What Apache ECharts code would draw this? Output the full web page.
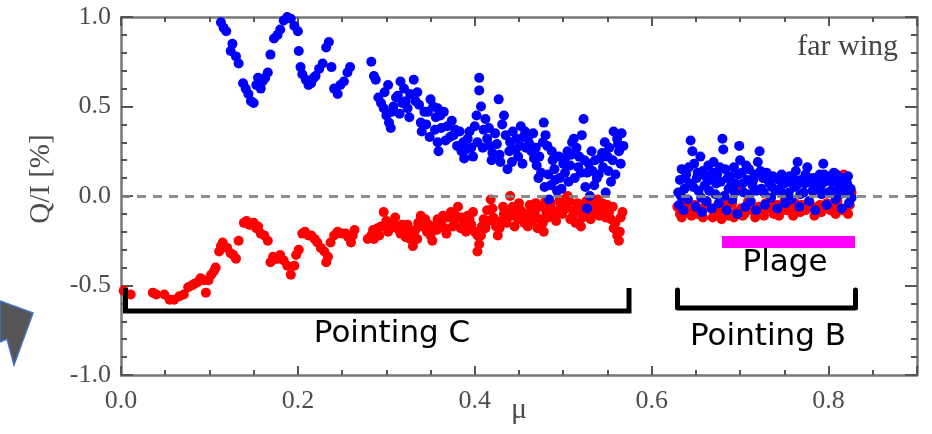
<!DOCTYPE html>
<html>
<head>
<meta charset="utf-8">
<script src="https://cdn.jsdelivr.net/npm/echarts@6/dist/echarts.min.js"></script>
<style>html,body{margin:0;padding:0;background:#fff;}#c{width:932px;height:434px;}</style>
</head>
<body>
<div id="c"></div>
<script>
// ---- data ----
const xTicks = [0.0, 0.2, 0.4, 0.6, 0.8];
const yTicks = [-1.0, -0.5, 0.0, 0.5, 1.0];
const xAxisName = 'μ';
const yAxisName = 'Q/I [%]';
const panelLabel = 'far wing';
const groupLabels = ['Pointing C', 'Pointing B', 'Plage'];

// Pointing C, blue points [mu, Q/I]
const bluePointingC = [[0.113,0.97],[0.116,0.94],[0.119,0.92],[0.126,0.85],[0.124,0.81],[0.130,0.78],[0.133,0.74],[0.138,0.63],[0.141,0.60],[0.144,0.57],[0.147,0.53],[0.150,0.52],[0.153,0.62],[0.155,0.66],[0.158,0.60],[0.160,0.64],[0.163,0.66],[0.166,0.69],[0.169,0.79],[0.173,0.88],[0.177,0.90],[0.180,0.93],[0.184,0.98],[0.188,1.0],[0.192,0.99],[0.196,0.95],[0.200,0.92],[0.201,0.81],[0.203,0.72],[0.205,0.68],[0.209,0.65],[0.212,0.62],[0.215,0.63],[0.218,0.66],[0.220,0.67],[0.224,0.71],[0.228,0.74],[0.232,0.83],[0.235,0.86],[0.238,0.72],[0.241,0.60],[0.245,0.57],[0.248,0.62],[0.252,0.64],[0.256,0.69],[0.259,0.72],[0.283,0.75],[0.286,0.67],[0.288,0.65],[0.291,0.55],[0.294,0.52],[0.297,0.49],[0.300,0.45],[0.303,0.41],[0.305,0.38],[0.308,0.50],[0.311,0.55],[0.313,0.56],[0.316,0.64],[0.320,0.60],[0.322,0.53],[0.324,0.49],[0.327,0.57],[0.331,0.65],[0.335,0.58],[0.337,0.51],[0.339,0.41],[0.340,0.36],[0.343,0.47],[0.347,0.47],[0.350,0.54],[0.353,0.50],[0.356,0.44],[0.358,0.49],[0.358,0.30],[0.359,0.25],[0.362,0.38],[0.365,0.47],[0.369,0.39],[0.372,0.33],[0.376,0.34],[0.380,0.28],[0.383,0.36],[0.385,0.25],[0.388,0.21],[0.392,0.32],[0.396,0.27],[0.400,0.39],[0.403,0.30],[0.405,0.66],[0.405,0.59],[0.407,0.50],[0.410,0.37],[0.414,0.32],[0.417,0.28],[0.420,0.24],[0.423,0.35],[0.427,0.54],[0.429,0.19],[0.431,0.40],[0.433,0.45],[0.437,0.15],[0.440,0.30],[0.443,0.36],[0.446,0.26],[0.449,0.22],[0.452,0.39],[0.455,0.33],[0.458,0.27],[0.460,0.32],[0.464,0.25],[0.467,0.21],[0.470,0.17],[0.472,0.10],[0.475,0.13],[0.478,0.41],[0.480,0.34],[0.482,0.28],[0.484,-0.02],[0.486,0.06],[0.488,0.20],[0.490,0.15],[0.493,0.03],[0.496,0.10],[0.500,0.18],[0.503,0.22],[0.505,0.25],[0.508,0.17],[0.510,0.30],[0.512,0.32],[0.515,0.27],[0.518,0.22],[0.520,0.13],[0.523,0.43],[0.525,0.05],[0.527,0.13],[0.527,-0.07],[0.530,0.00],[0.533,0.14],[0.535,0.06],[0.538,0.10],[0.542,0.21],[0.545,0.16],[0.548,0.02],[0.550,0.22],[0.552,0.27],[0.554,0.08],[0.557,0.36],[0.561,0.32],[0.563,0.25],[0.565,0.18],
[0.298,0.58],[0.302,0.62],[0.306,0.47],[0.315,0.46],[0.318,0.52],[0.326,0.44],[0.333,0.53],[0.345,0.40],[0.349,0.33],[0.355,0.37],[0.361,0.45],[0.367,0.31],[0.374,0.42],[0.378,0.37],[0.387,0.30],[0.390,0.26],[0.394,0.36],[0.398,0.22],[0.402,0.45],[0.409,0.27],[0.412,0.43],[0.416,0.38],[0.419,0.20],[0.425,0.29],[0.428,0.23],[0.435,0.34],[0.439,0.25],[0.442,0.19],[0.447,0.32],[0.451,0.28],[0.454,0.18],[0.457,0.36],[0.462,0.29],[0.466,0.35],[0.469,0.27],[0.473,0.22],[0.477,0.30],[0.479,0.05],[0.483,0.12],[0.487,0.25],[0.491,0.09],[0.495,0.22],[0.498,0.04],[0.502,0.13],[0.506,0.08],[0.509,0.23],[0.513,0.10],[0.517,0.16],[0.521,0.34],[0.524,0.20],[0.529,0.18],[0.532,0.25],[0.536,0.20],[0.540,0.12],[0.544,0.24],[0.547,0.30],[0.551,0.14],[0.556,0.20],[0.559,0.12],[0.562,0.29],[0.566,0.35],[0.568,0.28]];

// Pointing C, red points [mu, Q/I]
const redPointingC = [[0.003,-0.53],[0.011,-0.55],[0.036,-0.54],[0.040,-0.55],[0.049,-0.55],[0.055,-0.58],[0.060,-0.58],[0.066,-0.56],[0.071,-0.55],[0.076,-0.51],[0.080,-0.50],[0.083,-0.49],[0.087,-0.48],[0.090,-0.46],[0.094,-0.47],[0.096,-0.54],[0.099,-0.47],[0.102,-0.44],[0.105,-0.42],[0.107,-0.40],[0.111,-0.31],[0.113,-0.28],[0.115,-0.26],[0.120,-0.29],[0.124,-0.32],[0.127,-0.33],[0.130,-0.35],[0.133,-0.25],[0.139,-0.15],[0.142,-0.14],[0.145,-0.16],[0.147,-0.16],[0.150,-0.15],[0.153,-0.18],[0.155,-0.17],[0.158,-0.21],[0.162,-0.22],[0.166,-0.25],[0.169,-0.37],[0.172,-0.34],[0.175,-0.35],[0.177,-0.35],[0.180,-0.33],[0.184,-0.36],[0.188,-0.39],[0.192,-0.44],[0.196,-0.39],[0.198,-0.33],[0.201,-0.30],[0.205,-0.21],[0.208,-0.20],[0.212,-0.22],[0.215,-0.22],[0.219,-0.24],[0.222,-0.26],[0.226,-0.29],[0.230,-0.31],[0.232,-0.37],[0.234,-0.34],[0.237,-0.26],[0.241,-0.22],[0.245,-0.20],[0.250,-0.21],[0.254,-0.21],[0.257,-0.23],[0.260,-0.26],[0.262,-0.22],[0.264,-0.19],[0.279,-0.24],[0.283,-0.22],[0.286,-0.24],[0.290,-0.18],[0.294,-0.17],[0.297,-0.09],[0.300,-0.14],[0.304,-0.18],[0.308,-0.15],[0.312,-0.18],[0.316,-0.21],[0.320,-0.20],[0.324,-0.16],[0.327,-0.24],[0.330,-0.28],[0.333,-0.19],[0.336,-0.15],[0.339,-0.11],[0.342,-0.17],[0.346,-0.20],[0.350,-0.22],[0.354,-0.17],[0.358,-0.13],[0.362,-0.15],[0.366,-0.18],[0.369,-0.12],[0.373,-0.09],[0.377,-0.14],[0.381,-0.06],[0.384,-0.18],[0.388,-0.15],[0.392,-0.11],[0.396,-0.16],[0.400,-0.20],[0.403,-0.22],[0.403,-0.31],[0.405,-0.27],[0.408,-0.17],[0.410,-0.13],[0.414,-0.08],[0.418,-0.02],[0.421,-0.12],[0.424,-0.17],[0.426,-0.22],[0.430,-0.14],[0.433,-0.10],[0.437,-0.09],[0.440,0.00],[0.443,-0.06],[0.446,-0.11],[0.449,-0.13],[0.452,-0.08],[0.456,-0.15],[0.460,-0.17],[0.463,-0.12],[0.466,-0.07],[0.469,-0.04],[0.471,-0.18],[0.474,-0.13],[0.478,-0.20],[0.481,-0.09],[0.484,-0.06],[0.486,-0.04],[0.490,-0.11],[0.494,-0.09],[0.497,-0.05],[0.501,-0.02],[0.505,0.00],[0.508,-0.13],[0.512,-0.08],[0.516,-0.04],[0.520,-0.17],[0.523,-0.05],[0.527,-0.10],[0.531,-0.13],[0.535,-0.03],[0.539,-0.02],[0.543,-0.07],[0.546,-0.09],[0.550,-0.05],[0.554,-0.13],[0.557,-0.18],[0.561,-0.22],[0.563,-0.25],[0.565,-0.12],
[0.285,-0.19],[0.292,-0.22],[0.302,-0.20],[0.310,-0.12],[0.318,-0.16],[0.322,-0.23],[0.329,-0.20],[0.335,-0.24],[0.344,-0.13],[0.348,-0.16],[0.352,-0.25],[0.357,-0.19],[0.364,-0.11],[0.368,-0.21],[0.375,-0.17],[0.379,-0.11],[0.386,-0.12],[0.390,-0.20],[0.394,-0.13],[0.398,-0.09],[0.407,-0.22],[0.412,-0.18],[0.416,-0.14],[0.420,-0.07],[0.428,-0.18],[0.432,-0.06],[0.436,-0.15],[0.441,-0.11],[0.445,-0.17],[0.450,-0.04],[0.454,-0.12],[0.458,-0.10],[0.462,-0.05],[0.465,-0.14],[0.468,-0.10],[0.473,-0.06],[0.477,-0.15],[0.480,-0.03],[0.483,-0.12],[0.488,-0.08],[0.492,-0.14],[0.496,-0.02],[0.499,-0.10],[0.503,-0.07],[0.507,-0.03],[0.511,-0.11],[0.514,-0.15],[0.518,-0.08],[0.522,-0.12],[0.526,-0.03],[0.529,-0.07],[0.533,-0.10],[0.537,-0.06],[0.541,-0.11],[0.544,-0.04],[0.548,-0.12],[0.552,-0.09],[0.556,-0.06],[0.559,-0.15],[0.564,-0.20],[0.567,-0.09]];

// Pointing B, blue points [mu, Q/I]
const bluePointingB = [[0.630,0.02],[0.631,-0.05],[0.632,0.09],[0.634,0.15],[0.636,-0.08],[0.637,0.04],[0.639,0.12],[0.641,-0.02],[0.643,0.07],[0.644,0.31],[0.646,0.25],[0.648,0.18],[0.650,-0.06],[0.651,0.10],[0.653,0.03],[0.655,0.22],[0.657,-0.09],[0.658,0.14],[0.660,0.06],[0.662,-0.03],[0.664,0.17],[0.666,0.09],[0.668,-0.07],[0.670,0.19],[0.672,0.01],[0.674,0.12],[0.676,-0.04],[0.678,0.08],[0.680,0.32],[0.681,0.26],[0.683,0.15],[0.685,-0.08],[0.687,0.04],[0.689,0.11],[0.691,-0.02],[0.693,0.16],[0.695,0.07],[0.697,-0.10],[0.699,0.28],[0.700,0.20],[0.702,0.13],[0.704,0.02],[0.706,-0.06],[0.708,0.09],[0.710,0.15],[0.712,-0.03],[0.714,0.06],[0.716,0.12],[0.718,-0.08],[0.720,0.19],[0.722,0.25],[0.724,0.04],[0.726,0.10],[0.728,-0.05],[0.730,0.13],[0.733,0.07],[0.735,-0.01],[0.737,0.11],[0.740,0.03],[0.742,-0.07],[0.744,0.09],[0.747,0.12],[0.749,0.01],[0.751,-0.04],[0.754,0.08],[0.756,0.11],[0.758,-0.02],[0.761,0.05],[0.763,0.14],[0.765,0.19],[0.767,-0.06],[0.769,0.09],[0.772,0.02],[0.774,0.12],[0.776,0.16],[0.778,-0.03],[0.781,0.07],[0.783,0.10],[0.785,-0.08],[0.787,0.04],[0.790,0.12],[0.792,0.01],[0.794,0.18],[0.796,0.08],[0.798,-0.05],[0.801,0.11],[0.803,0.03],[0.806,0.13],[0.808,-0.02],[0.810,0.09],[0.812,0.05],[0.815,-0.07],[0.817,0.10],[0.819,0.02],[0.821,0.07],[0.823,-0.04],[0.825,0.04],
[0.633,0.00],[0.638,0.10],[0.642,0.16],[0.647,0.05],[0.652,0.13],[0.656,-0.01],[0.661,0.11],[0.665,0.03],[0.669,0.13],[0.673,0.07],[0.677,0.16],[0.682,0.00],[0.686,0.10],[0.690,0.06],[0.694,0.02],[0.698,0.12],[0.703,0.07],[0.707,0.17],[0.711,0.01],[0.715,0.09],[0.719,0.03],[0.723,0.14],[0.727,0.02],[0.732,0.09],[0.736,0.05],[0.741,0.10],[0.745,0.04],[0.750,0.07],[0.755,0.02],[0.760,0.10],[0.764,0.06],[0.768,0.01],[0.773,0.07],[0.777,0.10],[0.782,0.03],[0.786,0.09],[0.791,0.05],[0.795,0.12],[0.800,0.02],[0.804,0.08],[0.809,0.12],[0.813,0.01],[0.818,0.06],[0.822,0.11],[0.826,-0.01]];

// Pointing B, red points [mu, Q/I]
const redPointingB = [[0.629,-0.06],[0.632,-0.10],[0.636,-0.04],[0.640,-0.09],[0.645,-0.11],[0.649,-0.05],[0.654,-0.08],[0.658,-0.12],[0.662,-0.03],[0.667,-0.07],[0.671,-0.10],[0.675,-0.05],[0.679,-0.13],[0.683,-0.08],[0.687,-0.11],[0.691,-0.04],[0.695,-0.09],[0.699,0.06],[0.701,-0.07],[0.705,-0.10],[0.709,-0.03],[0.713,-0.08],[0.717,-0.12],[0.721,-0.06],[0.725,-0.09],[0.729,-0.04],[0.733,-0.07],[0.738,-0.10],[0.742,-0.05],[0.746,-0.08],[0.750,-0.03],[0.754,-0.06],[0.758,-0.09],[0.762,-0.04],[0.766,-0.07],[0.770,-0.05],[0.774,-0.08],[0.778,-0.03],[0.782,-0.06],[0.786,-0.09],[0.790,-0.05],[0.794,-0.07],[0.798,-0.04],[0.802,-0.08],[0.806,-0.06],[0.810,-0.03],[0.814,0.10],[0.817,0.12],[0.820,-0.07],[0.824,-0.05],[0.826,0.02],
[0.634,-0.12],[0.643,-0.07],[0.652,-0.10],[0.660,-0.06],[0.669,-0.12],[0.677,-0.08],[0.685,-0.05],[0.693,-0.12],[0.703,-0.11],[0.711,-0.06],[0.719,-0.09],[0.727,-0.11],[0.736,-0.05],[0.744,-0.11],[0.752,-0.08],[0.760,-0.11],[0.768,-0.09],[0.776,-0.06],[0.784,-0.11],[0.792,-0.09],[0.800,-0.06],[0.808,-0.10],[0.816,-0.08],[0.822,-0.10]];

// ---- chart ----
const chart = echarts.init(document.getElementById('c'), null, {renderer: 'canvas'});
const serif = 'Liberation Serif';
const axisGray = '#777';
const labelGray = '#4d4d4d';

function xAx(pos, showLabels) {
  return {
    type: 'value', position: pos, min: xTicks[0], max: 0.9, interval: 0.2,
    name: showLabels ? xAxisName : '', nameLocation: 'middle', nameGap: 20, nameMoveOverlap: false,
    nameTextStyle: {fontFamily: serif, fontSize: 30, color: labelGray},
    axisLine: {show: true, onZero: false, lineStyle: {color: axisGray, width: 2.5}},
    axisTick: {show: true, inside: true, length: 9, lineStyle: {color: '#555', width: 2}},
    minorTick: {show: true, splitNumber: 4, length: 5, lineStyle: {color: '#555', width: 2}},
    axisLabel: {show: showLabels, showMaxLabel: false, margin: 13, fontFamily: serif, fontSize: 26, color: labelGray,
      formatter: v => v.toFixed(1)},
    splitLine: {show: false}
  };
}
function yAx(pos, showLabels) {
  return {
    type: 'value', position: pos, min: yTicks[0], max: yTicks[yTicks.length - 1], interval: 0.5,
    axisLine: {show: true, onZero: false, lineStyle: {color: axisGray, width: 2.5}},
    axisTick: {show: true, inside: true, length: 12, lineStyle: {color: '#555', width: 2}},
    minorTick: {show: true, splitNumber: 5, length: 6, lineStyle: {color: '#555', width: 2}},
    axisLabel: {show: showLabels, margin: 10, fontFamily: serif, fontSize: 26, color: labelGray,
      formatter: v => v.toFixed(1)},
    splitLine: {show: false}
  };
}

const dotStyle = (c) => ({type: 'scatter', symbol: 'circle', symbolSize: 10, itemStyle: {color: c, opacity: 1}, silent: true, animation: false});

chart.setOption({
  animation: false,
  backgroundColor: '#fff',
  grid: {left: 121, top: 17, width: 796, height: 358, containLabel: false, outerBoundsMode: 'none'},
  xAxis: [xAx('bottom', true), xAx('top', false)],
  yAxis: [yAx('left', true), yAx('right', false)],
  series: [
    Object.assign(dotStyle('#ff0000'), {name: 'red C', data: redPointingC, z: 2}),
    Object.assign(dotStyle('#ff0000'), {name: 'red B', data: redPointingB, z: 2}),
    Object.assign(dotStyle('#0000ff'), {name: 'blue C', data: bluePointingC, z: 3}),
    Object.assign(dotStyle('#0000ff'), {name: 'blue B', data: bluePointingB, z: 3}),
    {
      type: 'line', data: [], z: 6, silent: true,
      markLine: {
        silent: true, symbol: ['none', 'none'], label: {show: false}, z: 6,
        lineStyle: {color: '#808080', width: 3, type: [9, 7], opacity: 0.9},
        data: [{yAxis: 0}]
      }
    }
  ],
  graphic: [
    {type: 'text', x: 898, y: 47, z: 10,
      style: {text: panelLabel, font: '30px "Liberation Serif"', fill: '#444', align: 'right', verticalAlign: 'middle'}},
    {type: 'text', x: 41, y: 179, rotation: Math.PI / 2, z: 10,
      style: {text: yAxisName, font: '29px "Liberation Serif"', fill: labelGray, align: 'center', verticalAlign: 'middle'}},
    {type: 'polyline', z: 10, shape: {points: [[125.5, 288], [125.5, 311], [629, 311], [629, 288]]},
      style: {stroke: '#000', lineWidth: 5, fill: null, lineJoin: 'miter'}},
    {type: 'polyline', z: 10, shape: {points: [[677.5, 290], [677.5, 308], [855.5, 308], [855.5, 290]]},
      style: {stroke: '#000', lineWidth: 5, fill: null, lineJoin: 'round', lineCap: 'round'}},
    {type: 'rect', z: 10, shape: {x: 722, y: 236, width: 133, height: 12}, style: {fill: '#ff00ff'}},
    {type: 'text', x: 392, y: 334, z: 10,
      style: {text: groupLabels[0], font: '31px "DejaVu Sans"', fill: '#000', align: 'center', verticalAlign: 'middle'}},
    {type: 'text', x: 768, y: 337, z: 10,
      style: {text: groupLabels[1], font: '31px "DejaVu Sans"', fill: '#000', align: 'center', verticalAlign: 'middle'}},
    {type: 'text', x: 785, y: 263, z: 10,
      style: {text: groupLabels[2], font: '31px "DejaVu Sans"', fill: '#000', align: 'center', verticalAlign: 'middle'}},
    {type: 'polygon', z: 10, shape: {points: [[0, 301], [33, 313], [14, 365], [7, 339], [0, 342]]},
      style: {fill: '#555', stroke: '#4472c4', lineWidth: 1.5}}
  ]
});
</script>
</body>
</html>
